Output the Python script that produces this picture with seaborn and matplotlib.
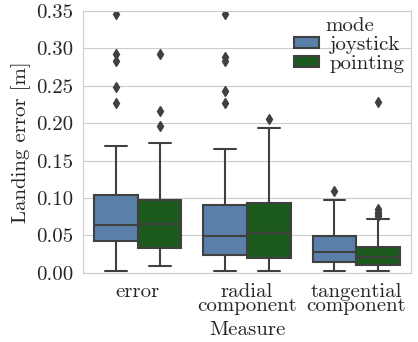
import matplotlib
matplotlib.use("Agg")
import matplotlib.pyplot as plt
import matplotlib.ticker as mticker
import pandas as pd
import seaborn as sns

measures = ["error", "radial\ncomponent", "tangential\ncomponent"]
modes = ["joystick", "pointing"]

# low whisker, Q1, median, Q3, high whisker
stats_joystick = [
    [0.002, 0.042, 0.064, 0.104, 0.169],
    [0.002, 0.024, 0.049, 0.091, 0.166],
    [0.002, 0.014, 0.028, 0.049, 0.097],
]
stats_pointing = [
    [0.009, 0.033, 0.066, 0.097, 0.174],
    [0.002, 0.020, 0.053, 0.093, 0.194],
    [0.002, 0.010, 0.021, 0.035, 0.072],
]
outliers_joystick = [
    [0.227, 0.249, 0.283, 0.292, 0.346],
    [0.227, 0.243, 0.283, 0.288, 0.346],
    [0.110],
]
outliers_pointing = [
    [0.196, 0.216, 0.293],
    [0.206],
    [0.076, 0.079, 0.082, 0.085, 0.228],
]


def sample(stats, outl, k=6):
    # 4k+1 points so that the quartiles land exactly on the read values
    lo, q1, med, q3, hi = stats
    return [lo] + [q1] * k + [med] * k + [q3] * k + [hi] * (k - len(outl)) + outl


rows = []
for mode, stats_l, out_l in [("joystick", stats_joystick, outliers_joystick),
                             ("pointing", stats_pointing, outliers_pointing)]:
    for m, st, ou in zip(measures, stats_l, out_l):
        for v in sample(st, ou):
            rows.append({"Measure": m, "mode": mode, "value": v})
df = pd.DataFrame(rows)

sns.set_style("whitegrid")
plt.rcParams["font.family"] = ["cmr10", "DejaVu Serif"]
plt.rcParams["font.size"] = 15

pal = ["#5a80aa", "#1d5a1d"]

fig, ax = plt.subplots(figsize=(4.18, 3.42), dpi=100)
fig.subplots_adjust(left=0.199, right=0.983, top=0.968, bottom=0.202)

sns.boxplot(data=df, x="Measure", y="value", hue="mode", order=measures,
            hue_order=modes, palette=pal, saturation=1, width=0.8,
            linewidth=1.5, linecolor=".25", fliersize=5,
            flierprops=dict(marker="d", markerfacecolor=".25", markeredgecolor=".25"),
            ax=ax)

ax.set_ylim(0, 0.35)
ax.yaxis.set_major_locator(mticker.MultipleLocator(0.05))
ax.yaxis.set_major_formatter(mticker.FormatStrFormatter("%.2f"))
ax.tick_params(labelsize=15)
for lab in ax.get_xticklabels():
    lab.set_linespacing(0.75)
ax.set_xlabel("Measure", fontsize=15)
ax.set_ylabel("Landing error [m]", fontsize=15)

h, l = ax.get_legend_handles_labels()
ax.legend(h, l, title="mode", loc="upper right", frameon=False, fontsize=15,
          title_fontsize=15, handlelength=1.2, handleheight=0.4,
          labelspacing=0.05, borderpad=0.0, borderaxespad=0.3,
          handletextpad=0.5)

fig.savefig("out.png", dpi=100)
